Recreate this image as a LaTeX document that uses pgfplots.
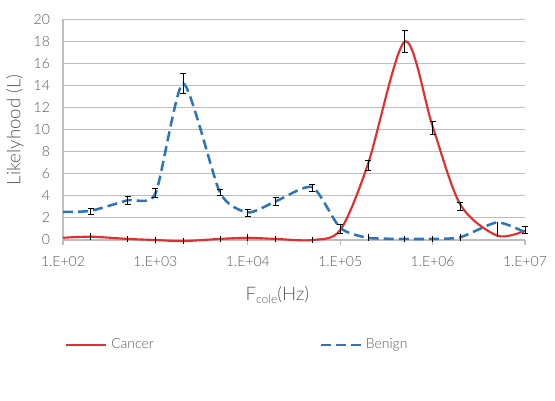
\documentclass[border=0pt]{standalone}
\usepackage{pgfplots}
\usepackage{pgfplotstable}
\pgfplotsset{compat=1.18}
\usepackage{fontspec}
\setmainfont{Lato Light}

\definecolor{cancer}{RGB}{228,45,45}
\definecolor{benign}{RGB}{46,117,182}
\definecolor{gridgray}{RGB}{190,190,190}
\definecolor{txt}{RGB}{89,89,89}

% smoothed series
\pgfplotstableread{
x     y
100   0.2
200   0.3
500   0.1
1000  0.0
2000  -0.1
5000  0.1
1e4   0.2
2e4   0.1
5e4   0.0
1e5   0.9
2e5   6.9
5e5   18.0
1e6   10.3
2e6   3.2
5e6   0.4
1e7   0.85
}\cancer

\pgfplotstableread{
x     y
100   2.55
200   2.65
500   3.6
1000  4.2
2000  14.2
5000  4.3
1e4   2.5
2e4   3.5
5e4   4.8
1e5   1.1
2e5   0.2
5e5   0.1
1e6   0.1
2e6   0.25
5e6   1.6
1e7   0.7
}\benign

% error bars with caps
\pgfplotstableread{
x     y     e
1e5   1.0   0.4
2e5   6.8   0.45
5e5   18.0  1.0
1e6   10.15 0.6
2e6   3.05  0.35
1e7   0.9   0.3
}\cancercap

\pgfplotstableread{
x     y     e
200   2.6   0.3
500   3.6   0.35
1000  4.3   0.4
2000  14.2  0.9
5000  4.3   0.3
1e4   2.45  0.35
2e4   3.5   0.33
5e4   4.75  0.33
}\benigncap

% error bars without caps
\pgfplotstableread{
x     y     ep    em
200   0.3   0.3   0.3
500   0.1   0.3   0.3
1000  0.0   0.3   0.3
2000  -0.1  0.3   0.3
5000  0.1   0.3   0.3
1e4   0.2   0.3   0.3
2e4   0.1   0.3   0.3
5e4   0.0   0.3   0.3
}\cancertick

\pgfplotstableread{
x     y     ep    em
2e5   0.2   0.3   0.3
5e5   0.1   0.3   0.3
1e6   0.1   0.3   0.3
2e6   0.25  0.3   0.3
5e6   1.6   0.05  1.3
}\benigntick

\begin{document}
\begin{tikzpicture}
\useasboundingbox (0pt,0pt) rectangle (416.25pt,300pt);
\begin{axis}[
  at={(47.25pt,120pt)}, anchor=south west,
  scale only axis, width=346.5pt, height=165.4pt,
  xmode=log, log basis x=10,
  xmin=100, xmax=1e7, ymin=0, ymax=20,
  clip=false,
  xtick={1e2,1e3,1e4,1e5,1e6,1e7},
  xticklabels={1.E+02,1.E+03,1.E+04,1.E+05,1.E+06,1.E+07},
  xminorticks=false,
  ytick={0,2,...,20},
  axis x line=bottom, axis y line=left,
  axis line style={-, draw=gridgray, line width=0.8pt},
  ymajorgrids, grid style={gridgray, line width=0.8pt},
  tick align=outside, major tick length=3.75pt,
  xtick style={draw=gridgray, line width=0.8pt},
  ytick style={draw=none},
  /pgf/number format/assume math mode=true,
  ticklabel style={font=\fontsize{10.5}{12}\selectfont, text=txt},
  yticklabel style={xshift=-2.5pt},
  xticklabel style={yshift=-5pt},
  every axis y label/.style={at={(rel axis cs:0,0.5)}, xshift=-36pt, rotate=90, anchor=center},
  every axis x label/.style={at={(rel axis cs:0.464,0)}, yshift=-41pt, anchor=center},
  label style={font=\fontsize{14}{16}\selectfont, text=txt},
  ylabel={Likelyhood (L)},
  xlabel={F\raisebox{-0.35ex}{\fontsize{9}{10}\selectfont cole}(Hz)},
  legend columns=2,
  legend style={at={(rel axis cs:0.004,-0.476)}, anchor=west, draw=none, fill=none,
    inner sep=0pt, font=\fontsize{10.5}{12}\selectfont, text=txt,
    nodes={inner xsep=3pt},
    /tikz/every even column/.append style={column sep=121pt}},
  legend image code/.code={\draw[#1] (0pt,0pt) -- (30pt,0pt);},
]
\addplot[cancer, line width=1.6pt, smooth, tension=0.5] table[x=x,y=y] {\cancer};
\addlegendentry{Cancer}
\addplot[benign, line width=1.9pt, smooth, tension=0.38, dash pattern=on 7.5pt off 3.8pt] table[x=x,y=y] {\benign};
\addlegendentry{Benign}

\addplot[forget plot, draw=none, mark=none,
  error bars/.cd, y dir=both, y explicit,
  error bar style={draw=black, solid, line width=0.6pt},
  error mark options={draw=black, solid, rotate=90, mark size=2.3pt, line width=0.6pt}]
  table[x=x,y=y,y error=e] {\cancercap};
\addplot[forget plot, draw=none, mark=none,
  error bars/.cd, y dir=both, y explicit,
  error bar style={draw=black, solid, line width=0.6pt},
  error mark options={draw=black, solid, rotate=90, mark size=2.3pt, line width=0.6pt}]
  table[x=x,y=y,y error=e] {\benigncap};
\addplot[forget plot, draw=none, mark=none,
  error bars/.cd, y dir=both, y explicit, error mark=none,
  error bar style={draw=black, solid, line width=0.6pt}]
  table[x=x,y=y,y error plus=ep,y error minus=em] {\cancertick};
\addplot[forget plot, draw=none, mark=none,
  error bars/.cd, y dir=both, y explicit, error mark=none,
  error bar style={draw=black, solid, line width=0.6pt}]
  table[x=x,y=y,y error plus=ep,y error minus=em] {\benigntick};
\end{axis}
\end{tikzpicture}
\end{document}
